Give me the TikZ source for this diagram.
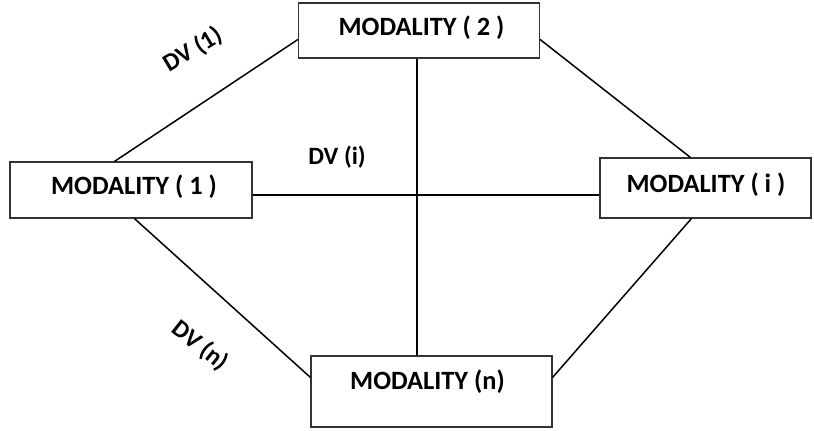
\documentclass[tikz,border=0pt]{standalone}
\usepackage{fontspec}
\setmainfont{Carlito}
\usetikzlibrary{calc}
\begin{document}
\begin{tikzpicture}[x=1bp,y=-1bp,
  modbox/.style={draw=black!80,line width=1.1bp,fill=white,inner sep=0pt},
  modtext/.style={font=\bfseries\fontsize{26.5}{30}\selectfont,inner sep=0pt},
  dvtext/.style={font=\bfseries\fontsize{25}{28}\selectfont,inner sep=0pt},
  link/.style={draw=black,line width=1.5bp}]
\useasboundingbox (0,0) rectangle (814,430);
% modality boxes
\node[modbox,minimum width=241bp,minimum height=55bp] (m2) at (419,30.5) {};
\node[modbox,minimum width=242bp,minimum height=56bp] (m1) at (131,190) {};
\node[modbox,minimum width=211bp,minimum height=60bp] (mi) at (705.5,188) {};
\node[modbox,minimum width=241bp,minimum height=71bp] (mn) at (431.5,391.5) {};
% box labels
\node[modtext] (t2) at (421.5,28) {MODALITY ( 2 )};
\node[modtext] (t1) at (134,186.5) {MODALITY ( 1 )};
\node[modtext] (ti) at (706,184.5) {MODALITY ( i )};
\node[modtext] (tn) at (427.5,381.5) {MODALITY (n)};
% connectors
\draw[link] ($(m1.north west)+(105,0)$) -- ($(m2.north west)+(0,37)$);
\draw[link] ($(m2.north east)+(0,37)$) -- ($(mi.north west)+(91,0)$);
\draw[link] ($(m1.south west)+(125,0)$) -- ($(mn.north west)+(0,22)$);
\draw[link] ($(mn.north east)+(0,22)$) -- ($(mi.south west)+(92,0)$);
\draw[link] (m2.south -| 417,0) -- (mn.north -| 417,0);
\coordinate (hl) at ($(m1.east)+(0,5)$);
\draw[link] (hl) -- (hl -| mi.west);
% connector labels
\node[dvtext,rotate=31] (dv1) at (193,50) {DV (1)};
\node[dvtext] (dvi) at (337,157) {DV (i)};
\node[dvtext,rotate=-38] (dvn) at (200,346) {DV (n)};
\end{tikzpicture}
\end{document}
